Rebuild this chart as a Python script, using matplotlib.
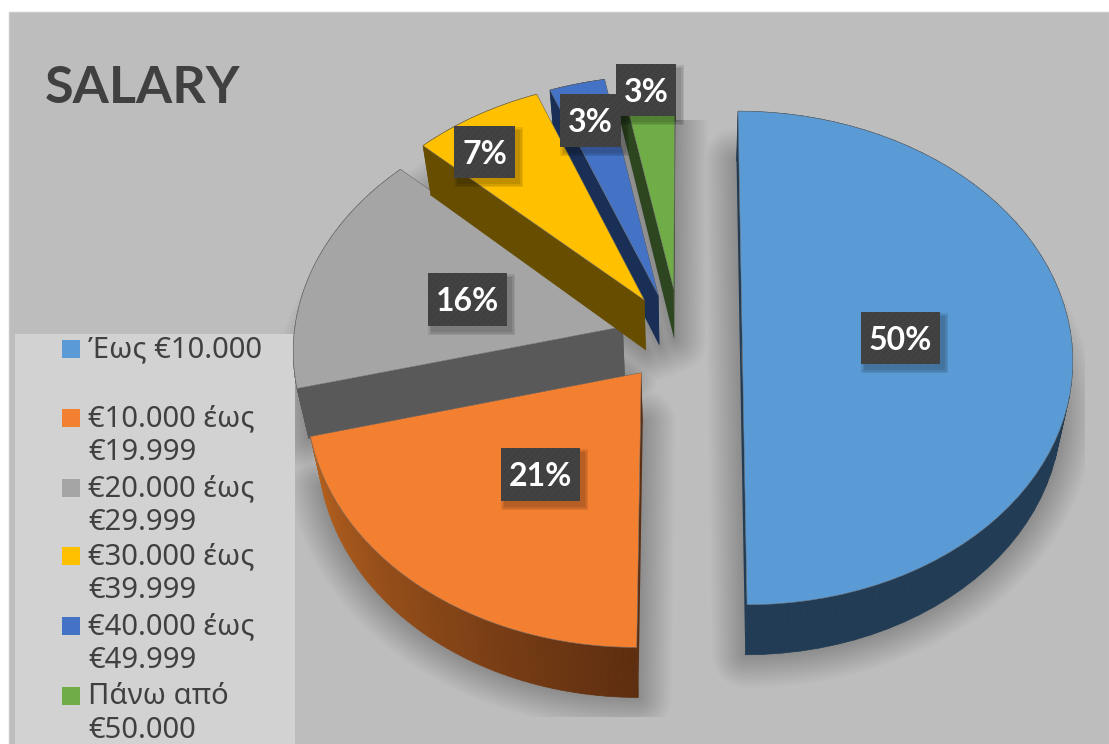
import numpy as np
import matplotlib
matplotlib.use('Agg')
import matplotlib.pyplot as plt
import matplotlib.colors as mcolors
from matplotlib.patches import Rectangle, Polygon, PathPatch
from matplotlib.path import Path
from matplotlib.transforms import Transform

# data
categories = ['Έως €10.000', '€10.000 έως\n€19.999', '€20.000 έως\n€29.999',
              '€30.000 έως\n€39.999', '€40.000 έως\n€49.999', 'Πάνω από\n€50.000']
values = [50, 21, 16, 7, 3, 3]

# style
top_colors = ['#5b9bd5', '#f37f31', '#a5a5a5', '#ffc000', '#4472c4', '#70ad47']
rim_start = ['#213c54', '#b8621f', '#595959', '#664d00', '#1a2f55', '#2d4620']
rim_end = ['#213c54', '#5e2e10', '#595959', '#664d00', '#1a2f55', '#2d4620']
explode = [0.16, 0.22, 0.21, 0.22, 0.20, 0.20]
nudge_x = [0, -0.01, 0, -0.015, -0.04, -0.03]
nudge_y = [0, 0.03, -0.01, -0.03, -0.02, 0]
draw_order = [2, 5, 4, 3, 1, 0]
label_boxes = [(861, 312, 79, 52), (501, 448, 79, 53), (428, 273, 79, 53),
               (454, 126, 61, 52), (560, 94, 61, 53), (616, 64, 60, 52)]
legend_y = [349, 418, 488, 556, 626, 696]

X0, Y0, A, B, K = 689.5, 337, 329, 245, 0.085
DEPTH = 50
SHRINK = 0.03


def project(pts, drop=0):
    x, y = pts[:, 0], pts[:, 1]
    w = 1 + K * y
    s = 1 - SHRINK * drop / DEPTH
    return np.column_stack((X0 + s * A * x / w, Y0 + drop - B * y / w))


class PiePerspective(Transform):
    input_dims = 2
    output_dims = 2
    is_separable = False

    def transform_non_affine(self, values):
        return project(np.asarray(values))


def arc_points(wedge, n=60):
    t = np.radians(np.linspace(wedge.theta1, wedge.theta2, n))
    cx, cy = wedge.center
    return np.column_stack((cx + wedge.r * np.cos(t), cy + wedge.r * np.sin(t)))


plt.rcParams['font.family'] = ['Noto Sans', 'DejaVu Sans']
plt.rcParams['hatch.linewidth'] = 0.4
fig = plt.figure(figsize=(11.09, 7.44), dpi=100, facecolor='white')
ax = fig.add_axes([0, 0, 1, 1])

wedges, _ = ax.pie(values, colors=top_colors, explode=explode, startangle=90, counterclock=False,
                   wedgeprops={'linewidth': 0.35, 'edgecolor': '#6f6f6f'})
ax.set_aspect('auto')
ax.set_xlim(0, 1109)
ax.set_ylim(744, 0)
ax.axis('off')

ax.add_patch(Rectangle((9, 12), 1100, 732, fc='#bdbdbd', ec='#c9c9c9', lw=1, zorder=0))

persp = PiePerspective() + ax.transData
for i, w in enumerate(wedges):
    w.set_center((w.center[0] + nudge_x[i], w.center[1] + nudge_y[i]))
    w.set_transform(persp)

# soft shadow behind the pie
verts, codes = [], []
for w in wedges:
    ring = np.vstack(([w.center], arc_points(w), [w.center]))
    ring = project(ring, DEPTH)
    verts.append(ring)
    codes += [Path.MOVETO] + [Path.LINETO] * (len(ring) - 2) + [Path.CLOSEPOLY]
shadow_path = Path(np.vstack(verts), codes)
shadow_clip = Rectangle((280, 120), 805, 597, transform=ax.transData)
for lw in range(48, 1, -2):
    p = PathPatch(shadow_path, fc='none', ec='black', lw=lw, alpha=0.0095, zorder=1, joinstyle='round')
    ax.add_patch(p)
    p.set_clip_path(shadow_clip)
p = PathPatch(shadow_path, fc='black', ec='none', alpha=0.1, zorder=1)
ax.add_patch(p)
p.set_clip_path(shadow_clip)

# legend panel
ax.add_patch(Rectangle((15, 334), 280, 410, fc='#d2d2d2', ec='none', zorder=2))
for i, (cat, y) in enumerate(zip(categories, legend_y)):
    ax.add_patch(Rectangle((62, y - 9), 18, 18, fc=top_colors[i], ec='none', zorder=3))
    ax.text(88, y - 14, cat, fontsize=21, color='#404040', va='top', ha='left',
            linespacing=1.24, zorder=3)

# slices, back to front
z = 4
for i in draw_order:
    w = wedges[i]
    arc = arc_points(w)
    c0, c1 = mcolors.to_rgb(rim_start[i]), mcolors.to_rgb(rim_end[i])
    for end in (arc[0], arc[-1]):
        face = np.array([w.center, end])
        poly = np.vstack((project(face), project(face[::-1], DEPTH)))
        ax.add_patch(Polygon(poly, fc=rim_end[i], ec='none', zorder=z))
    z += 1
    top = project(arc)
    bottom = project(arc, DEPTH)
    for k in range(len(arc) - 1):
        f = k / (len(arc) - 2)
        col = tuple(c0[n] + (c1[n] - c0[n]) * f for n in range(3))
        quad = np.vstack((top[k:k + 2], bottom[k:k + 2][::-1]))
        ax.add_patch(Polygon(quad, fc=col, ec=col, lw=0.5, zorder=z))
    z += 1
    w.set_zorder(z)
    z += 1

# data labels
for v, (x, y, bw, bh) in zip(values, label_boxes):
    for grow in [8, 5, 2]:
        ax.add_patch(Rectangle((x + 4 - grow / 2, y + 5 - grow / 2), bw + grow, bh + grow,
                               fc='black', ec='none', alpha=0.09, zorder=50))
    ax.add_patch(Rectangle((x, y), bw, bh, fc='#404040', ec='#4a4a4a', lw=0, hatch='/////', zorder=51))
    ax.text(x + bw / 2, y + bh / 2 + 2, f'{v}%', fontsize=23, fontweight='bold', color='white',
            family='Lato', ha='center', va='center', zorder=52)

ax.text(45, 103, 'SALARY', fontsize=37.5, fontweight='bold', color='#404040', family='Lato',
        ha='left', va='baseline', zorder=3)

fig.savefig('out.png', dpi=100, facecolor='white')
